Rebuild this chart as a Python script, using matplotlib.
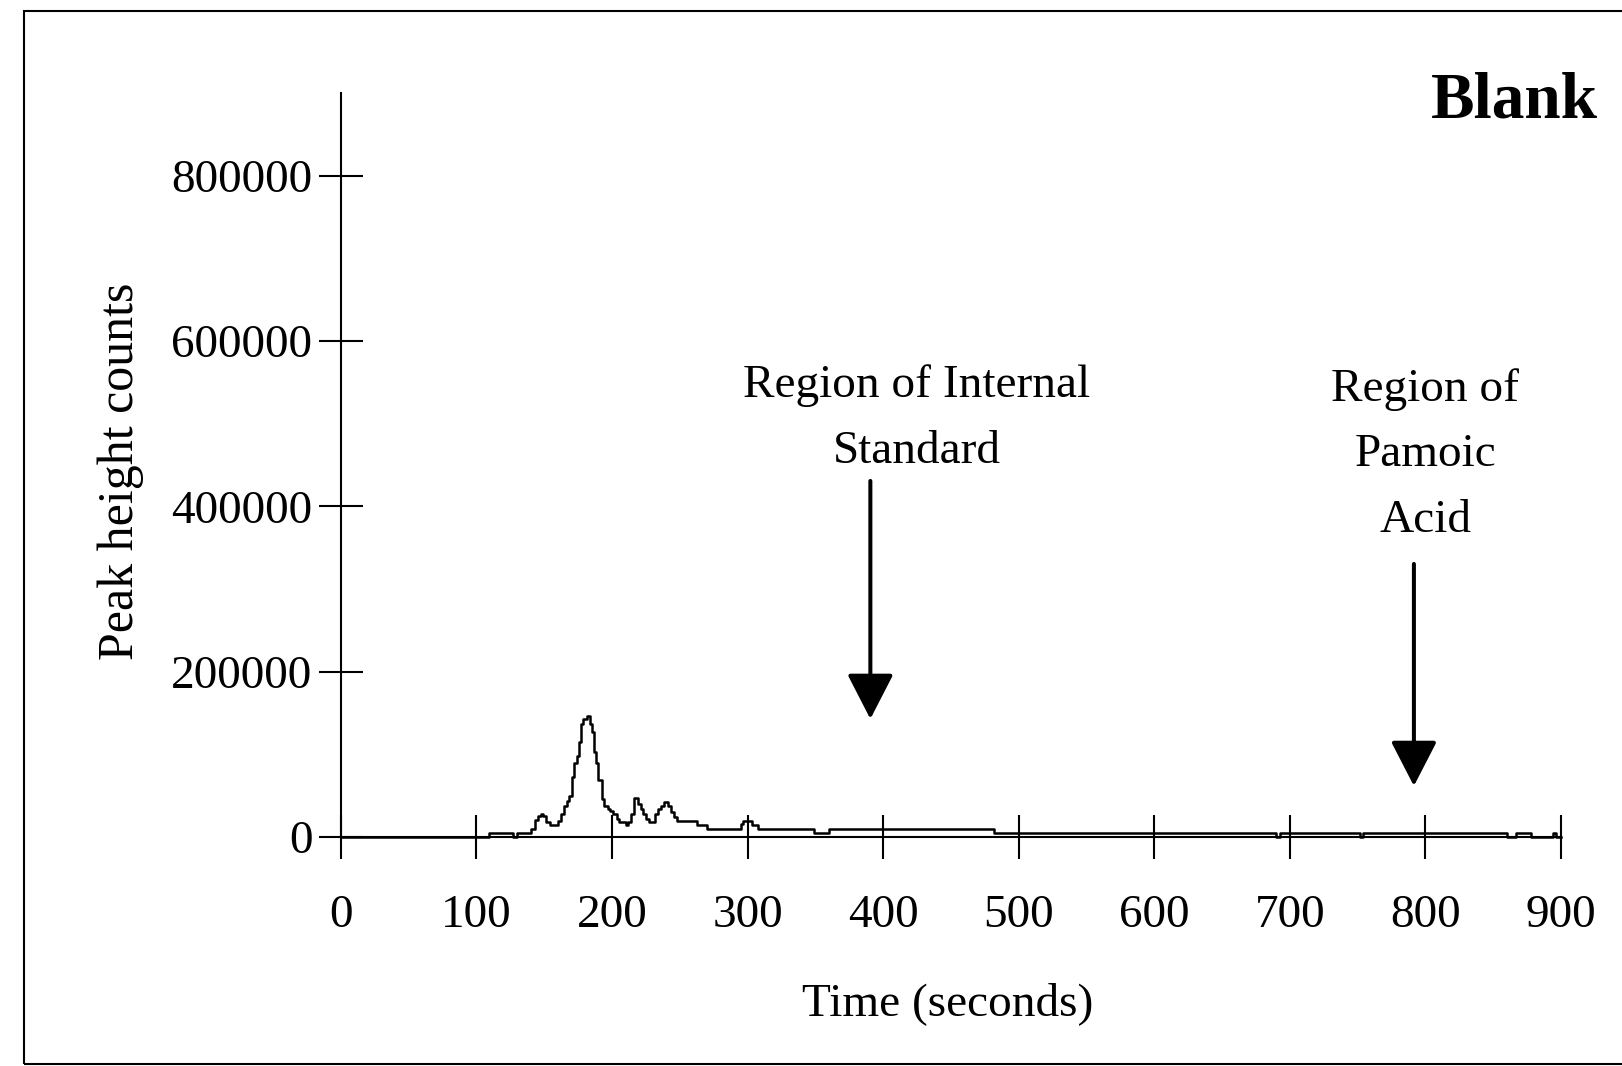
import matplotlib.pyplot as plt
from matplotlib.patches import Rectangle

# trace (step changes: time in s, peak height counts)
times = [0, 109, 127, 130, 140.5, 143.5, 145.5, 148, 149, 151.5, 154, 160, 162.5, 165, 167,
         168.5, 170.5, 172, 174, 176, 177.5, 179, 181.5, 184, 185, 187, 188.5, 190, 192.5,
         194.5, 197, 198.5, 201, 204, 205.5, 210, 212, 214, 216, 219.5, 221.5, 223, 225, 227,
         232, 234, 236, 238.5, 241, 243.5, 246, 248, 263, 270, 295, 297, 303.5, 308, 349, 360,
         482, 690, 693, 752, 754, 860, 867, 878, 894, 896, 900]
counts = [0, 5000, 0, 5000, 10000, 20000, 25000, 28000, 25000, 18000, 14000, 19000, 28000,
          38000, 44000, 50000, 72000, 90000, 97500, 115000, 137000, 143000, 146000, 137000,
          127000, 103000, 90000, 68500, 46000, 38000, 34000, 32000, 28000, 22000, 18000, 14000,
          18000, 28000, 47000, 40000, 34000, 28000, 22000, 18000, 28000, 34000, 38000, 42000,
          38000, 30000, 24000, 19000, 14000, 10000, 16000, 19000, 14000, 10000, 5000, 10000,
          5000, 0, 5000, 0, 5000, 0, 5000, 0, 5000, 0, 0]

xticks = [0, 100, 200, 300, 400, 500, 600, 700, 800, 900]
yticks = [0, 200000, 400000, 600000, 800000]

plt.rcParams['font.family'] = ['Liberation Serif', 'DejaVu Serif']

fig = plt.figure(figsize=(16.22, 10.66), dpi=100)
ax = fig.add_axes([0.2101, 0.2148, 0.7523, 0.698])

ax.step(times, counts, where='post', color='black', lw=1.8, clip_on=False)

ax.set_xlim(0, 900)
ax.set_ylim(0, 900000)
ax.set_xticks(xticks)
ax.set_yticks(yticks)
ax.set_xticklabels([str(v) for v in xticks])
ax.set_yticklabels([str(v) for v in yticks])

ax.spines['top'].set_visible(False)
ax.spines['right'].set_visible(False)
ax.spines['left'].set_linewidth(1.5)
ax.spines['bottom'].set_linewidth(1.5)
ax.tick_params(direction='inout', length=31, width=1.5, labelsize=34)
ax.tick_params(axis='x', pad=26)
ax.tick_params(axis='y', pad=5)

fig.text(121 / 1622, 1 - 471 / 1066, 'Peak height counts', rotation=90,
         ha='center', va='center', fontsize=36)
fig.text(947.6 / 1622, 1 - 1003.5 / 1066, 'Time (seconds)', ha='center', va='center', fontsize=34)
fig.text(1598 / 1622, 1 - 101 / 1066, 'Blank', ha='right', va='center',
         fontsize=47, fontweight='bold')

arrow = dict(arrowstyle='-|>,head_length=1.4,head_width=0.72', mutation_scale=20,
             lw=2.9, color='black', shrinkA=0, shrinkB=0)
ax.annotate('', xy=(390.6, 142800), xytext=(390.6, 430700), arrowprops=arrow)
ax.annotate('', xy=(791.5, 61700), xytext=(791.5, 330300), arrowprops=arrow)
ax.text(424.7, 506000, 'Region of Internal\nStandard', ha='center', va='center',
        fontsize=34, linespacing=1.7)
ax.text(800, 462000, 'Region of\nPamoic\nAcid', ha='center', va='center',
        fontsize=34, linespacing=1.7)

# outer frame (right edge runs off the picture)
fig.patches.append(Rectangle((24 / 1622, 1 - 1064 / 1066), 1.0, 1053 / 1066,
                             transform=fig.transFigure, fill=False, lw=1.5,
                             edgecolor='black', clip_on=False))

fig.savefig('out.png', dpi=100)
